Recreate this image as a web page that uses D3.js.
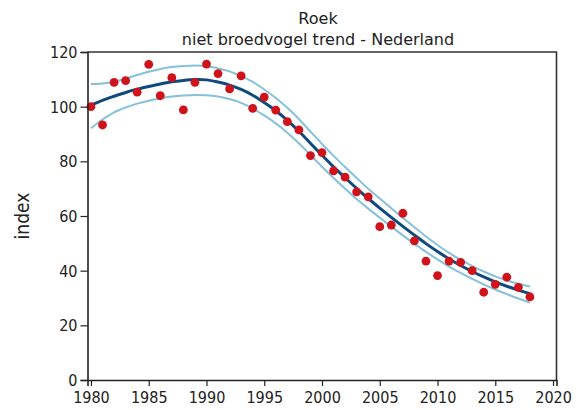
<!DOCTYPE html>
<html><head><meta charset="utf-8">
<script src="https://cdn.jsdelivr.net/npm/d3@7"></script>
<style>body{margin:0;background:#fff}svg{display:block}</style>
</head><body><svg id="c" width="580" height="410"></svg>
<script>
const years = d3.range(1980, 2019);
const observed = [100,93.3,108.9,109.5,105.3,115.5,104,110.6,98.8,108.9,115.6,112.1,106.5,111.3,99.4,103.5,98.7,94.5,91.5,82.1,83.2,76.5,74.2,68.8,67,56.1,56.7,61,50.9,43.5,38.2,43.5,43.0,40.0,32.1,35.0,37.6,33.9,30.4];
const trend = [100.5,102.3,103.8,105.2,106.4,107.4,108.3,109.1,109.6,109.9,109.8,109.0,107.9,106.3,104.2,101.5,98.5,95.0,91.0,86.6,82.2,78.0,74.0,70.1,66.4,62.9,59.5,56.2,53.0,49.9,47.0,44.3,41.9,39.7,37.7,35.9,34.3,32.9,31.6];
const upper = [108.3,108.5,109.1,110.3,111.6,112.8,113.8,114.5,114.9,115.1,114.9,114.0,112.9,111.2,109.1,106.3,103.2,99.6,95.5,90.9,86.4,82.0,77.9,73.9,70.0,66.4,62.8,59.3,55.9,52.5,49.4,46.5,44.0,41.7,39.7,37.9,36.4,35.2,34.2];
const lower = [92.1,95.3,97.9,99.7,101.1,102.2,103.0,103.7,104.1,104.3,104.2,103.7,102.8,101.4,99.4,96.8,93.9,90.5,86.6,82.3,78.0,73.9,70.0,66.2,62.7,59.4,56.1,52.9,49.8,46.9,44.1,41.5,39.2,37.0,35.0,33.1,31.4,29.8,28.3];
const xTicks = [1980,1985,1990,1995,2000,2005,2010,2015,2020];
const yTicks = [0,20,40,60,80,100,120];
const titleLines = ["Roek", "niet broedvogel trend - Nederland"];
const yLabel = "index";

const font = "'DejaVu Sans Condensed','DejaVu Sans',sans-serif";
const titleFont = "'DejaVu Sans',sans-serif";
const svg = d3.select("#c");
const x = d3.scaleLinear().domain([1979.7, 2020.3]).range([87.5, 556.5]);
const y = d3.scaleLinear().domain([0, 120]).range([380, 52]);

// frame (top + right)
svg.append("path")
  .attr("d", `M${x.range()[0]},${y(120)}H${x.range()[1]}V${y(0)}`)
  .attr("fill","none").attr("stroke","#333").attr("stroke-width",1.6);

const line = (arr) => d3.line().x((d,i)=>x(years[i])).y(d=>y(d)).curve(d3.curveCatmullRom)(arr);

svg.append("path").attr("d", line(upper)).attr("fill","none").attr("stroke","#86c1da").attr("stroke-width",2);
svg.append("path").attr("d", line(lower)).attr("fill","none").attr("stroke","#86c1da").attr("stroke-width",2);
svg.append("path").attr("d", line(trend)).attr("fill","none").attr("stroke","#0e4a7e").attr("stroke-width",3);

svg.append("g").selectAll("circle").data(observed).join("circle")
  .attr("cx",(d,i)=>x(years[i])).attr("cy",d=>y(d)).attr("r",4.4).attr("fill","#d0121b");

// axes
const xAxis = svg.append("g").attr("transform",`translate(0,${y(0)})`)
  .call(d3.axisBottom(x).tickValues(xTicks).tickFormat(d3.format("d")).tickSizeOuter(0).tickSize(6));
const yAxis = svg.append("g").attr("transform",`translate(${x.range()[0]},0)`)
  .call(d3.axisLeft(y).tickValues(yTicks).tickSizeOuter(0).tickSize(7));
[xAxis,yAxis].forEach(g=>{
  g.select(".domain").attr("stroke","#222").attr("stroke-width",1.6);
  g.selectAll(".tick line").attr("stroke","#222").attr("stroke-width",1.2);
  g.selectAll("text").attr("font-family",font).attr("font-size",16).attr("fill","#222");
});
xAxis.selectAll("text").attr("dy",null).attr("y",23);
yAxis.selectAll("text").attr("x",-10).attr("dy","0.35em");

svg.append("text").attr("x",(x.range()[0]+x.range()[1])/2 - 4).attr("y",24)
  .attr("text-anchor","middle").attr("font-family",titleFont).attr("font-size",16).attr("fill","#222").text(titleLines[0]);
svg.append("text").attr("x",(x.range()[0]+x.range()[1])/2 - 4).attr("y",45)
  .attr("text-anchor","middle").attr("font-family",titleFont).attr("font-size",16).attr("fill","#222").text(titleLines[1]);
svg.append("text").attr("transform",`translate(29,${(y(0)+y(120))/2}) rotate(-90)`)
  .attr("text-anchor","middle").attr("font-family",font).attr("font-size",19).attr("fill","#222").text(yLabel);
</script></body></html>
